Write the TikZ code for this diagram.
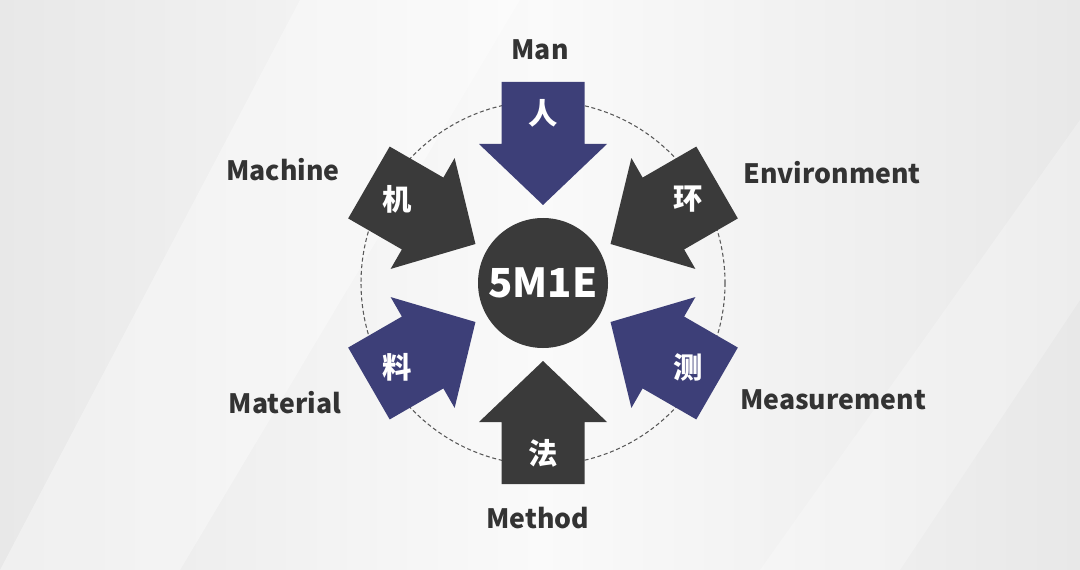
\documentclass[tikz,border=0pt]{standalone}
\usepackage{fontspec}
\setmainfont{Noto Sans CJK SC}
\usetikzlibrary{calc}
\definecolor{bluearr}{HTML}{3D3F78}
\definecolor{grayarr}{HTML}{3A3A3A}
\definecolor{lbl}{HTML}{333333}
\tikzset{
  arrowshape/.style={fill=#1},
  cjktext/.style={text=white,font=\bfseries\fontsize{22}{24}\selectfont},
  namelabel/.style={text=lbl,font=\bfseries\fontsize{20}{22}\selectfont},
}
\begin{document}
\begin{tikzpicture}[x=0.75pt,y=-0.75pt]
\useasboundingbox (0,0) rectangle (1080,570);
\shade[left color=gray!18,right color=gray!18,middle color=gray!4] (0,0) rectangle (1080,570);
\fill[white,opacity=0.35] (0,570) -- (300,0) -- (520,0) -- (180,570) -- cycle;
\fill[white,opacity=0.25] (760,570) -- (1080,120) -- (1080,300) -- (900,570) -- cycle;
\coordinate (c) at (543,283);
\draw[densely dashed,gray!70!black,line width=0.8pt] (c) circle[radius=182];
\begin{scope}[shift={(543,283)},yscale=-1]
\foreach \ang/\col in {90/bluearr,150/grayarr,30/grayarr,210/bluearr,330/bluearr,270/grayarr}{
  \begin{scope}[rotate=-\ang]
  \fill[arrowshape=\col] (201,-41.5) -- (139,-41.5) -- (139,-64) -- (78,0) -- (139,64) -- (139,41.5) -- (201,41.5) -- cycle;
  \end{scope}
}
\node[cjktext] (ren) at (90:170) {人};
\node[cjktext] (ji) at (150:168) {机};
\node[cjktext] (huan) at (30:168) {环};
\node[cjktext] (liao) at (210:168) {料};
\node[cjktext] (ce) at (330:168) {测};
\node[cjktext] (fa) at (270:170) {法};
\end{scope}
\fill[grayarr] (c) circle[radius=65];
\node[text=white,font=\bfseries\fontsize{30}{32}\selectfont] (core) at (c) {5M1E};
\node[namelabel] (man) at (540,50) {Man};
\node[namelabel] (machine) at (283,170) {Machine};
\node[namelabel] (env) at (832,173) {Environment};
\node[namelabel] (mat) at (285,403) {Material};
\node[namelabel] (meas) at (833,400) {Measurement};
\node[namelabel] (meth) at (538,518) {Method};
\end{tikzpicture}
\end{document}
